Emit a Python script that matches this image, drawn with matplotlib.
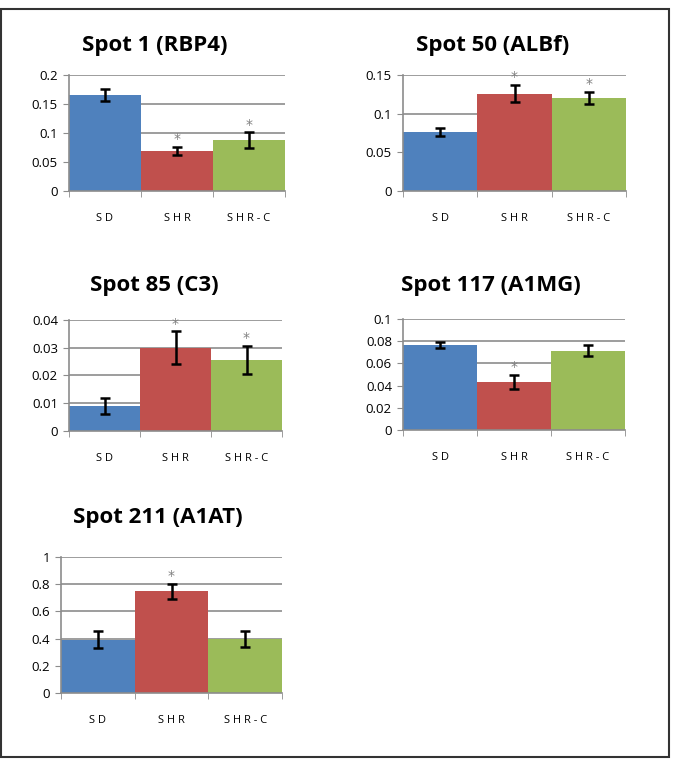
import matplotlib
matplotlib.use("Agg")
import matplotlib.pyplot as plt
from matplotlib.patches import Rectangle
import numpy as np

categories = ["SD", "SHR", "SHR-C"]
colors = ["#4F81BD", "#C0504D", "#9BBB59"]

titles = ["Spot 1 (RBP4)", "Spot 50 (ALBf)", "Spot 85 (C3)", "Spot 117 (A1MG)", "Spot 211 (A1AT)"]
spot1_vals = [0.166, 0.069, 0.088]
spot1_err = [0.010, 0.007, 0.013]
spot1_star = [False, True, True]
spot50_vals = [0.076, 0.126, 0.120]
spot50_err = [0.005, 0.011, 0.008]
spot50_star = [False, True, True]
spot85_vals = [0.0090, 0.0300, 0.0256]
spot85_err = [0.0030, 0.0060, 0.0052]
spot85_star = [False, True, True]
spot117_vals = [0.0765, 0.0435, 0.0715]
spot117_err = [0.0025, 0.0065, 0.0050]
spot117_star = [False, True, False]
spot211_vals = [0.393, 0.748, 0.395]
spot211_err = [0.062, 0.055, 0.060]
spot211_star = [False, True, False]

yticks_list = [
    [0, 0.05, 0.1, 0.15, 0.2],
    [0, 0.05, 0.1, 0.15],
    [0, 0.01, 0.02, 0.03, 0.04],
    [0, 0.02, 0.04, 0.06, 0.08, 0.1],
    [0, 0.2, 0.4, 0.6, 0.8, 1],
]
ytick_labels = [
    ["0", "0.05", "0.1", "0.15", "0.2"],
    ["0", "0.05", "0.1", "0.15"],
    ["0", "0.01", "0.02", "0.03", "0.04"],
    ["0", "0.02", "0.04", "0.06", "0.08", "0.1"],
    ["0", "0.2", "0.4", "0.6", "0.8", "1"],
]
values = [spot1_vals, spot50_vals, spot85_vals, spot117_vals, spot211_vals]
errors = [spot1_err, spot50_err, spot85_err, spot117_err, spot211_err]
stars = [spot1_star, spot50_star, spot85_star, spot117_star, spot211_star]

W, H = 685, 774
fig = plt.figure(figsize=(W / 100, H / 100), dpi=100)

# axes boxes in pixels: left, right, top, bottom
boxes = [
    (69, 285, 75, 191),
    (403, 626, 75, 191),
    (69, 282, 320, 431),
    (403, 625, 319, 430),
    (61, 282, 557, 693),
]
title_pos = [(155, 45), (493, 45), (154, 285), (491, 285), (158, 518)]

fig.patches.append(Rectangle((1 / W, 1 - 757 / H), 668 / W, 748 / H, transform=fig.transFigure,
                             fill=False, edgecolor="#333333", linewidth=1.5))

grid_c = "#8C8C8C"
for i in range(5):
    l, r, t, b = boxes[i]
    ax = fig.add_axes([l / W, 1 - b / H, (r - l) / W, (b - t) / H])
    x = np.arange(len(categories))
    ax.bar(x, values[i], width=1.0, color=colors, zorder=2)
    ax.errorbar(x, values[i], yerr=errors[i], fmt="none", ecolor="black",
                elinewidth=1.8, capsize=3.5, capthick=1.8, zorder=3)
    ymax = yticks_list[i][-1]
    for j in range(3):
        if stars[i][j]:
            ax.text(x[j], values[i][j] + errors[i][j] + ymax * 0.005, "*", ha="center", va="bottom",
                    color="#808080", fontsize=10, zorder=4)
    ax.set_xlim(-0.5, 2.5)
    ax.set_ylim(0, ymax)
    ax.set_yticks(yticks_list[i])
    ax.set_yticklabels(ytick_labels[i], fontsize=9.5, family="Open Sans")
    for yv in yticks_list[i][1:]:
        ax.axhline(yv, color=grid_c, linewidth=1.2, zorder=1)
    ax.set_xticks(x)
    ax.set_xticklabels(["S D", "S H R", "S H R - C"], fontsize=8, family="Open Sans")
    ax.set_xticks([-0.5, 0.5, 1.5, 2.5], minor=True)
    ax.tick_params(axis="x", which="major", length=0, pad=16)
    ax.tick_params(axis="x", which="minor", length=4, color=grid_c, direction="out")
    ax.tick_params(axis="y", length=4, color=grid_c, direction="out", pad=4)
    for s in ["top", "right"]:
        ax.spines[s].set_visible(False)
    for s in ["left", "bottom"]:
        ax.spines[s].set_color(grid_c)
        ax.spines[s].set_linewidth(1.2)
    tx, ty = title_pos[i]
    fig.text(tx / W, 1 - ty / H, titles[i], ha="center", va="center",
             fontsize=16, fontweight="bold", family="Open Sans")

fig.savefig("out.png", dpi=100)
